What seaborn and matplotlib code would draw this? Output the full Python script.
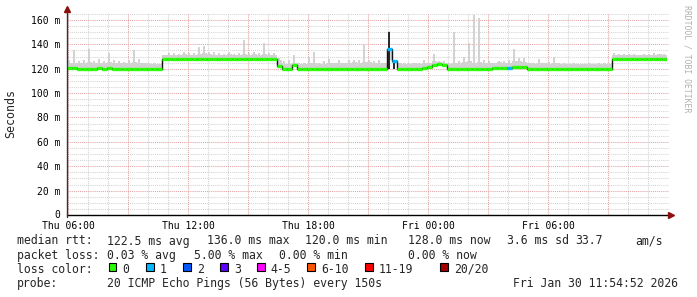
import matplotlib
matplotlib.use("Agg")
import matplotlib.pyplot as plt
import numpy as np
import pandas as pd
import seaborn as sns
from matplotlib.patches import Rectangle

# ---------------- data ----------------
START_HOUR = 5 + 54 / 60 + 52 / 3600      # Thu 05:54:52 (hours since Thu 00:00)
STEP_HOURS = 0.25                          # 15 minute bins

median_ms = [
    120.5, 120.3, 119.6, 119.5, 119.5, 119.8, 120.3, 120.0, 120.4, 119.8,
    119.6, 120.0, 119.7, 120.0, 119.8, 119.6, 119.8, 119.9, 120.2, 128.0,
    128.0, 128.0, 128.0, 128.0, 128.0, 128.0, 128.0, 128.0, 128.0, 128.0,
    128.0, 128.0, 128.0, 128.0, 128.4, 128.0, 128.0, 128.0, 128.0, 128.0,
    128.0, 128.0, 122.0, 120.0, 120.0, 123.0, 120.0, 119.8, 120.0, 120.2,
    119.8, 120.0, 120.0, 119.8, 120.0, 120.2, 120.0, 119.8, 120.0, 120.0,
    120.0, 119.8, 120.0, 120.0, 136.0, 126.0, 120.0, 120.0, 120.0, 120.0,
    120.0, 121.0, 121.5, 123.0, 123.5, 123.0, 120.0, 120.0, 120.0, 120.0,
    120.0, 120.0, 120.0, 120.0, 120.0, 120.8, 120.8, 120.8, 120.3, 121.3,
    121.3, 121.3, 120.0, 120.0, 119.8, 120.0, 120.0, 120.0, 119.8, 120.0,
    120.0, 120.0, 120.0, 120.0, 119.8, 120.0, 120.0, 120.0, 120.0, 128.0,
    128.0, 128.0, 128.0, 128.0, 128.0, 128.0, 128.0, 128.0, 128.0, 128.0,
]
loss_count = [0] * 64 + [1, 1] + [0] * 22 + [1] + [0] * 31

band_hi_ms = [
    125.0, 125.0, 124.5, 125.0, 125.5, 124.5, 125.0, 124.5, 125.5, 125.0,
    124.5, 125.0, 124.5, 125.5, 125.0, 124.5, 124.0, 124.0, 123.5, 131.0,
    131.5, 131.5, 131.0, 132.0, 131.5, 131.5, 132.5, 133.0, 132.0, 131.5,
    131.5, 131.0, 132.0, 131.5, 131.5, 132.5, 131.5, 132.0, 131.5, 132.0,
    131.5, 131.5, 127.0, 123.5, 124.0, 125.0, 123.5, 124.0, 124.5, 125.0,
    124.0, 124.0, 125.0, 124.5, 125.0, 124.5, 125.0, 125.5, 125.0, 125.5,
    125.5, 125.0, 125.0, 124.5, 127.0, 125.0, 124.5, 124.0, 124.0, 124.5,
    124.0, 125.0, 124.5, 126.0, 125.5, 125.0, 124.0, 125.0, 124.5, 125.5,
    126.0, 125.0, 125.5, 124.5, 125.0, 125.0, 125.5, 125.0, 125.0, 126.0,
    126.0, 125.5, 124.5, 124.0, 125.0, 124.5, 124.0, 125.0, 124.0, 123.5,
    123.5, 124.0, 123.5, 123.5, 124.0, 123.5, 124.0, 124.0, 123.5, 131.5,
    131.5, 131.5, 131.0, 131.5, 131.0, 131.5, 131.5, 131.5, 132.0, 131.5,
]

peak_ms = [
    127.0, 135.5, 126.0, 127.0, 136.0, 126.0, 128.0, 126.0, 133.0, 127.0,
    126.0, 125.5, 127.0, 135.5, 128.0, 125.0, 124.5, 124.5, 123.5, 131.0,
    133.0, 133.0, 132.0, 134.0, 133.0, 133.0, 137.5, 139.0, 134.0, 134.0,
    133.0, 132.5, 133.5, 132.0, 133.0, 143.5, 133.0, 134.0, 133.0, 141.0,
    133.0, 133.0, 129.0, 126.0, 127.0, 131.0, 125.0, 125.0, 130.0, 133.5,
    125.0, 126.0, 128.0, 125.0, 127.0, 125.0, 127.0, 127.0, 127.0, 139.5,
    127.0, 126.0, 127.0, 125.0, 151.0, 127.0, 125.0, 125.0, 124.5, 125.0,
    125.0, 127.0, 125.0, 132.5, 126.0, 126.0, 125.0, 150.5, 126.0, 130.0,
    141.5, 164.0, 161.5, 127.0, 126.0, 125.0, 126.0, 126.0, 127.0, 136.0,
    129.0, 129.0, 125.0, 124.5, 128.0, 125.0, 125.5, 130.0, 125.0, 124.5,
    124.0, 124.5, 124.0, 124.0, 124.5, 124.0, 125.0, 124.5, 124.0, 133.0,
    132.5, 132.5, 132.0, 132.5, 131.5, 132.5, 132.0, 133.0, 132.5, 132.0,
]

dense_bins = [64, 65]
dense_lo_ms = [120.0, 120.0]
dense_hi_ms = [150.5, 127.0]

x_tick_hours = [6, 12, 18, 24, 30]
x_tick_labels = ["Thu 06:00", "Thu 12:00", "Thu 18:00", "Fri 00:00", "Fri 06:00"]
y_tick_values = [0, 20, 40, 60, 80, 100, 120, 140, 160]
y_tick_labels = ["0", "20 m", "40 m", "60 m", "80 m", "100 m", "120 m", "140 m", "160 m"]

loss_labels = ["0", "1", "2", "3", "4-5", "6-10", "11-19", "20/20"]
loss_colors = ["#26ff00", "#00b8ff", "#0059ff", "#5e00ff", "#ff00ff", "#ff5500", "#ff0000", "#a10000"]

stats_line1 = [("median rtt:", 16.7), ("122.5 ms avg", 107.3), ("136.0 ms max", 207.3),
               ("120.0 ms min", 305.0), ("128.0 ms now", 407.7), ("3.6 ms sd", 506.7),
               ("33.7", 575.0), ("am/s", 635.0)]
stats_line2 = [("packet loss:", 16.7), ("0.03 % avg", 107.3), ("5.00 % max", 194.0),
               ("0.00 % min", 279.3), ("0.00 % now", 407.7)]
probe_line = [("probe:", 16.7), ("20 ICMP Echo Pings (56 Bytes) every 150s", 107.3),
              ("Fri Jan 30 11:54:52 2026", 513.3)]

# ---------------- figure ----------------
sns.set_style("white")
plt.rcParams["font.family"] = ["DejaVu Sans Mono"]

W, H = 697, 297
fig = plt.figure(figsize=(W / 100, H / 100), dpi=100)
fig.patch.set_facecolor("white")

def fx(px):
    return px / W

def fy(py):
    return 1 - py / H

ax = fig.add_axes([fx(66.7), fy(215), 600 / W, (215 - 13.9) / H])
ax.set_facecolor("white")
x_min, x_max = START_HOUR, START_HOUR + 30.0
ax.set_xlim(x_min, x_max)
ax.set_ylim(0, 165)

# grid
ext = 1.5 / 600 * 30.0
for h in range(6, 36):
    if x_min < h < x_max:
        major = h % 3 == 0
        ax.plot([h, h], [0, 165], color="#e3a3a3" if major else "#d4d4d4",
                lw=0.75, ls=(0, (1, 1)), zorder=0.5 if major else 0.4)
for v in range(5, 166, 5):
    major = v % 20 == 0
    ax.plot([x_min, x_max + ext], [v, v], color="#e3a3a3" if major else "#d4d4d4",
            lw=0.75, ls=(0, (1, 1)), zorder=0.5 if major else 0.4, clip_on=False)

n = len(median_ms)
t_left = np.array([START_HOUR + STEP_HOURS * i for i in range(n)])
t_mid = t_left + STEP_HOURS / 2
med = np.array(median_ms)

# smoke
ax.vlines(t_mid, med, peak_ms, color="#cfcfcf", lw=1.3, zorder=2)
ax.bar(t_left, np.array(band_hi_ms) - med, bottom=med, width=STEP_HOURS, align="edge",
       color="#d2d2d2", linewidth=0, zorder=2.2)
for b, lo, hi in zip(dense_bins, dense_lo_ms, dense_hi_ms):
    ax.bar(t_left[b] + STEP_HOURS * 0.2, hi - lo, bottom=lo, width=STEP_HOURS * 0.45,
           align="edge", color="#2b2b2b", linewidth=0, zorder=2.5)

# median line: thin dark step plus loss coloured segments
df = pd.DataFrame({"t": list(t_left) + [START_HOUR + STEP_HOURS * n],
                   "rtt": list(median_ms) + [median_ms[-1]]})
sns.lineplot(data=df, x="t", y="rtt", drawstyle="steps-post", color="#111111",
             lw=1.0, estimator=None, ax=ax, zorder=3)

def loss_class(c):
    if c <= 3:
        return c
    if c <= 5:
        return 4
    if c <= 10:
        return 5
    if c <= 19:
        return 6
    return 7

seg_colors = [loss_colors[loss_class(c)] for c in loss_count]
ax.hlines(med, t_left, t_left + STEP_HOURS, colors=seg_colors, lw=2.4, zorder=4)

# axes decorations
for s in ax.spines.values():
    s.set_visible(False)
ax.set_xlabel("")
ax.set_ylabel("")
ax.set_xticks(x_tick_hours, x_tick_labels)
ax.set_yticks(y_tick_values, y_tick_labels)
ax.tick_params(axis="x", length=0, pad=4.0, labelsize=7, colors="black")
ax.tick_params(axis="y", length=0, pad=4.8, labelsize=7, colors="black")
for lab in ax.get_yticklabels():
    if lab.get_text() == "0":
        lab.set_verticalalignment("center")

ax.plot([0, 1 + 1.5 / 600], [0, 0], transform=ax.transAxes, color="black", lw=1.0,
        clip_on=False, zorder=5)
ax.plot([0, 0], [-1.5 / 201, 1 + 2 / 201], transform=ax.transAxes, color="#333333", lw=1.0,
        clip_on=False, zorder=5)
ax.plot([1 + 4.5 / 600], [0], marker=">", color="#8b1010", ms=4, transform=ax.transAxes,
        clip_on=False, zorder=6)
ax.plot([0], [1 + 4.5 / 201], marker="^", color="#8b1010", ms=4, transform=ax.transAxes,
        clip_on=False, zorder=6)

# labels
fig.text(fx(11), fy(114), "Seconds", rotation=90, ha="center", va="center", fontsize=8.4)
fig.text(fx(687), fy(59), "RRDTOOL / TOBI OETIKER", rotation=270, ha="center",
         va="center", fontsize=5.9, color="#b0b0b0")

FS = 8.3
for txt, x in stats_line1:
    fig.text(fx(x), fy(244.5), txt, ha="left", va="baseline", fontsize=FS)
for txt, x in stats_line2:
    fig.text(fx(x), fy(258.7), txt, ha="left", va="baseline", fontsize=FS)
fig.text(fx(16.7), fy(272.9), "loss color:", ha="left", va="baseline", fontsize=FS)
square_x = [108.5, 145.7, 183.0, 220.0, 256.7, 307.3, 365.0, 440.0]
for sx, lab, col in zip(square_x, loss_labels, loss_colors):
    fig.patches.append(Rectangle((fx(sx), fy(271.2)), 7.8 / W, 7.8 / H, transform=fig.transFigure,
                                 facecolor=col, edgecolor="black", lw=0.8))
    fig.text(fx(sx + 14.0), fy(272.9), lab, ha="left", va="baseline", fontsize=FS)
for txt, x in probe_line:
    fig.text(fx(x), fy(287.1), txt, ha="left", va="baseline", fontsize=FS)

fig.savefig("out.png", dpi=100, facecolor="white")
